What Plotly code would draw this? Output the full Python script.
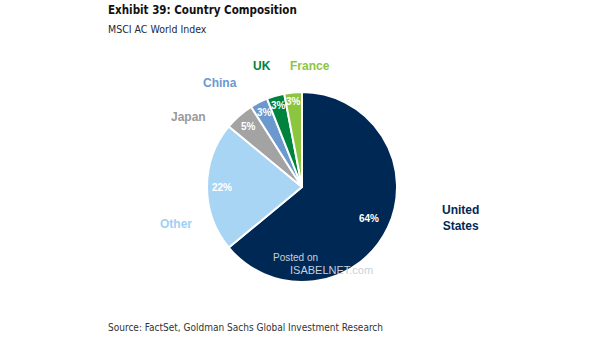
import plotly.graph_objects as go
import math

countries = ["United States", "Other", "Japan", "China", "UK", "France"]
shares = [64, 22, 5, 3, 3, 3]
slice_colors = ["#002855", "#a9d5f5", "#a3a3a3", "#6b98cf", "#00843d", "#8cc63f"]
label_colors = ["#002855", "#9fd0f5", "#9a9a9a", "#6b98cf", "#00843d", "#8cc63f"]
label_texts = ["United<br>States", "Other", "Japan", "China", "UK", "France"]
# outside label positions (pixel offsets from pie centre) - styling
label_offsets = [(158, 31), (-126, 37), (-114, -70), (-82, -104), (-40, -121), (8, -121)]
# radial position of percentage labels, as fraction of radius - styling
in_radius = [0.78, 0.84, 0.85, 0.88, 0.89, 0.9]

W, H = 605, 341
cx, cy, R = 302, 187, 95
COND = "DejaVu Sans Condensed, Roboto, Arial"

fig = go.Figure()
fig.add_trace(go.Pie(
    labels=countries, values=shares, sort=False, direction="clockwise", rotation=0,
    marker=dict(colors=slice_colors, line=dict(color="white", width=2)),
    textinfo="none", hoverinfo="label+percent",
    domain=dict(x=[(cx - R) / W, (cx + R) / W], y=[(H - cy - R) / H, (H - cy + R) / H]),
    showlegend=False,
))

total = sum(shares)
cum = 0
for i, v in enumerate(shares):
    mid = (cum + v / 2) / total * 2 * math.pi
    cum += v
    sx, sy = math.sin(mid), -math.cos(mid)
    lx = cx + label_offsets[i][0]
    ly = cy + label_offsets[i][1]
    fig.add_annotation(x=lx / W, y=1 - ly / H, xref="paper", yref="paper",
                       text="<b>%s</b>" % label_texts[i], showarrow=False,
                       font=dict(family="Liberation Sans, Arial", size=12, color=label_colors[i]),
                       xanchor="center", yanchor="middle")
    px = cx + sx * R * in_radius[i]
    py = cy + sy * R * in_radius[i]
    fig.add_annotation(x=px / W, y=1 - py / H, xref="paper", yref="paper",
                       text="<b>%d%%</b>" % v, showarrow=False,
                       font=dict(family="Liberation Sans, Arial", size=10, color="white"),
                       xanchor="center", yanchor="middle")

fig.add_annotation(x=106 / W, y=1 - 10 / H, xref="paper", yref="paper", xanchor="left", yanchor="middle",
                   text="<b>Exhibit 39: Country Composition</b>", showarrow=False,
                   font=dict(family=COND, size=11.5, color="#111111"))
fig.add_annotation(x=106 / W, y=1 - 29 / H, xref="paper", yref="paper", xanchor="left", yanchor="middle",
                   text="MSCI AC World Index", showarrow=False,
                   font=dict(family=COND, size=10.5, color="#1a2a3a"))
fig.add_annotation(x=106 / W, y=1 - 327 / H, xref="paper", yref="paper", xanchor="left", yanchor="middle",
                   text="Source: FactSet, Goldman Sachs Global Investment Research", showarrow=False,
                   font=dict(family=COND, size=10, color="#333333"))
fig.add_annotation(x=271 / W, y=1 - 257 / H, xref="paper", yref="paper", xanchor="left", yanchor="middle",
                   text="Posted on", showarrow=False,
                   font=dict(family="Liberation Sans, Arial", size=10, color="#c8d0dc"))
fig.add_annotation(x=288 / W, y=1 - 270 / H, xref="paper", yref="paper", xanchor="left", yanchor="middle",
                   text="ISABELNET.com", showarrow=False,
                   font=dict(family="Liberation Sans, Arial", size=11, color="#c8d0dc"))

fig.update_layout(width=W, height=H, margin=dict(l=0, r=0, t=0, b=0),
                  paper_bgcolor="white", plot_bgcolor="white")
fig.write_html("out.html")
